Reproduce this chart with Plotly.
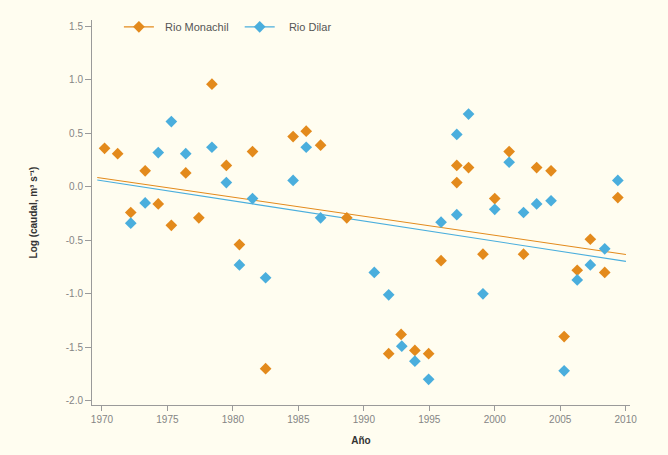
import plotly.graph_objects as go

# Data
years_monachil = [1970.2, 1971.2, 1972.2, 1973.3, 1974.3, 1975.3, 1976.4, 1977.4, 1978.4,
                  1979.5, 1980.5, 1981.5, 1982.5, 1984.6, 1985.6, 1986.7, 1988.7, 1991.9,
                  1992.85, 1993.9, 1994.95, 1995.9, 1997.1, 1997.1, 1998.0, 1999.1, 2000.0,
                  2001.1, 2002.2, 2003.2, 2004.3, 2005.3, 2006.3, 2007.3, 2008.4, 2009.4]
log_monachil = [0.36, 0.31, -0.24, 0.15, -0.16, -0.36, 0.13, -0.29, 0.96,
                0.20, -0.54, 0.33, -1.70, 0.47, 0.52, 0.39, -0.29, -1.56,
                -1.38, -1.53, -1.56, -0.69, 0.20, 0.04, 0.18, -0.63, -0.11,
                0.33, -0.63, 0.18, 0.15, -1.40, -0.78, -0.49, -0.80, -0.10]

years_dilar = [1972.2, 1973.3, 1974.3, 1975.3, 1976.4, 1978.4, 1979.5, 1980.5, 1981.5,
               1982.5, 1984.6, 1985.6, 1986.7, 1990.8, 1991.9, 1992.9, 1993.9, 1994.95,
               1995.9, 1997.1, 1997.1, 1998.0, 1999.1, 2000.0, 2001.1, 2002.2, 2003.2,
               2004.3, 2005.3, 2006.3, 2007.3, 2008.4, 2009.4]
log_dilar = [-0.34, -0.15, 0.32, 0.61, 0.31, 0.37, 0.04, -0.73, -0.11,
             -0.85, 0.06, 0.37, -0.29, -0.80, -1.01, -1.49, -1.63, -1.80,
             -0.33, 0.49, -0.26, 0.68, -1.00, -0.21, 0.23, -0.24, -0.16,
             -0.13, -1.72, -0.87, -0.73, -0.58, 0.06]

trend_x = [1969.64, 2010.02]
trend_monachil = [0.088, -0.632]
trend_dilar = [0.064, -0.697]

y_tickvals = [1.5, 1.0, 0.5, 0.0, -0.5, -1.0, -1.5, -2.0]
y_ticktext = ["1.5", "1.0", "0.5", "0.0", "-0.5", "-1.0", "-1.5", "-2.0"]
x_tickvals = [1970, 1975, 1980, 1985, 1990, 1995, 2000, 2005, 2010]

ORANGE = "#E38A1C"
BLUE = "#4AAEDD"
BG = "#FFFDF0"
NB = "\u00a0"

fig = go.Figure()

fig.add_trace(go.Scatter(x=trend_x, y=trend_monachil, mode="lines",
                         line=dict(color=ORANGE, width=1.1), showlegend=False, hoverinfo="skip"))
fig.add_trace(go.Scatter(x=trend_x, y=trend_dilar, mode="lines",
                         line=dict(color=BLUE, width=1.1), showlegend=False, hoverinfo="skip"))

fig.add_trace(go.Scatter(x=years_monachil, y=log_monachil, mode="markers",
                         marker=dict(symbol="diamond", size=9, color=ORANGE),
                         showlegend=False, name="Rio Monachil"))
fig.add_trace(go.Scatter(x=years_dilar, y=log_dilar, mode="markers",
                         marker=dict(symbol="diamond", size=9, color=BLUE),
                         showlegend=False, name="Rio Dilar"))

# legend entries (line + diamond)
fig.add_trace(go.Scatter(x=[None], y=[None], mode="lines+markers",
                         name=NB * 2 + "Rio Monachil" + NB * 2,
                         line=dict(color=ORANGE, width=1.2),
                         marker=dict(symbol="diamond", size=9, color=ORANGE)))
fig.add_trace(go.Scatter(x=[None], y=[None], mode="lines+markers",
                         name=NB * 3 + "Rio Dilar",
                         line=dict(color=BLUE, width=1.2),
                         marker=dict(symbol="diamond", size=9, color=BLUE)))

fig.update_layout(
    width=668, height=455,
    margin=dict(l=92, r=38, t=20, b=50),
    paper_bgcolor=BG, plot_bgcolor=BG,
    font=dict(family="Liberation Sans, Arial, sans-serif", size=10, color="#858585"),
    showlegend=True,
    legend=dict(orientation="h", x=0.05, y=1.02, xanchor="left", yanchor="top",
                bgcolor="rgba(0,0,0,0)", font=dict(size=11, color="#555555")),
    xaxis=dict(range=[1969.24, 2010.33], tickvals=x_tickvals, showgrid=False, zeroline=False,
               showline=True, linecolor="#9a9a9a", linewidth=1,
               ticks="outside", ticklen=5, tickcolor="#9a9a9a",
               title=dict(text="<b>Año</b>", font=dict(size=10, color="#333333"), standoff=12)),
    yaxis=dict(range=[-2.04, 1.56], tickvals=y_tickvals, ticktext=y_ticktext, showgrid=False,
               zeroline=False, showline=True, linecolor="#9a9a9a", linewidth=1,
               ticks="outside", ticklen=6, tickcolor="#9a9a9a",
               title=dict(text="<b>Log (caudal, m³ s⁻¹)</b>", font=dict(size=10, color="#333333"),
                          standoff=26)),
)

fig.write_html("out.html")
